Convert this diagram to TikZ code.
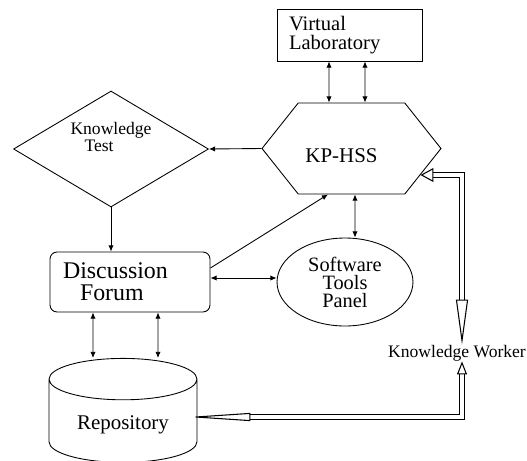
\documentclass[tikz,border=0pt]{standalone}
\usepackage{fontspec}
\setmainfont{Liberation Serif}
\usetikzlibrary{shapes.geometric,shapes.symbols,arrows.meta}

\begin{document}
\begin{tikzpicture}[
        x=0.02cm, y=-0.02cm,
        line width=0.5pt,
        labbox/.style={draw, rectangle, minimum width=2.9cm, minimum height=1.04cm, text width=2.42cm, inner xsep=0.24cm, align=left, font=\fontsize{11.7}{10.8}\selectfont},
        hexa/.style={draw, signal, signal to=west and east, signal pointer angle=103, minimum width=3.58cm, minimum height=1.82cm, inner sep=0pt, text height=15.5pt, text depth=0pt, font=\fontsize{11.9}{13}\selectfont},
        kdiamond/.style={draw, diamond, aspect=1.68, minimum width=3.9cm, minimum height=2.32cm, inner sep=0pt, align=left, font=\fontsize{10}{8}\selectfont},
        forumbox/.style={draw, rectangle, rounded corners=4pt, minimum width=3.2cm, minimum height=1.2cm, text width=2.68cm, inner xsep=0.26cm, align=left, font=\fontsize{13.6}{12.3}\selectfont},
        toolsell/.style={draw, ellipse, minimum width=2.72cm, minimum height=1.76cm, inner sep=0pt, align=center, font=\fontsize{11.6}{10.2}\selectfont},
        repo/.style={draw, cylinder, shape border rotate=90, aspect=0.4, minimum width=2.96cm, minimum height=2.08cm, font=\fontsize{11.9}{13}\selectfont},
        kwtext/.style={inner sep=0pt, font=\fontsize{10}{12}\selectfont},
        arrow/.style={-{Latex[length=3.5pt,width=3pt]}},
        twoway/.style={{Latex[length=3.5pt,width=3pt]}-{Latex[length=3.5pt,width=3pt]}},
        pipe/.style={double, double distance=2pt, line width=0.6pt}
    ]
    \useasboundingbox (0,0) rectangle (527,460);

    \node[labbox] (lab) at (349.5,35) {Virtual\\Laboratory};
    \node[hexa] (hss) at (351.5,148.5) {KP-HSS\kern0.4cm};
    \node[kdiamond] (test) at (111,149) {Knowledge\\\hspace{8pt}Test\\[5.6pt]\mbox{}};
    \node[forumbox] (forum) at (130,282) {Discussion\\\hspace{0.34cm}Forum};
    \node[toolsell] (tools) at (345,282) {Software\\Tools\\Panel};
    \node[repo] (repo) at (123,425) {Repository};
    \node[kwtext] (kw) at (457,353) {Knowledge Worker};
    \coordinate (kwtop) at (462,175);
    \coordinate (kwbot) at (462,417);

    % links to the lab and to the forum
    \draw[twoway] ([xshift=-0.41cm]lab.south) -- ([xshift=-0.45cm]hss.north);
    \draw[twoway] ([xshift=0.31cm]lab.south) -- ([xshift=0.27cm]hss.north);
    \draw[arrow] (hss.west) -- (test.east);
    \draw[arrow] (test.south) -- (test.south |- forum.north);
    \draw[arrow] ([yshift=0.28cm]forum.east) -- ([xshift=-0.47cm]hss.south);
    \draw[twoway] ([yshift=0.08cm]forum.east) -- ([yshift=0.08cm]tools.west);
    \draw[twoway] ([xshift=0.07cm]hss.south) -- ([xshift=0.2cm]tools.north);
    \draw[twoway] ([xshift=-0.74cm]forum.south) -- ([xshift=-0.6cm]repo.north);
    \draw[twoway] ([xshift=0.56cm]forum.south) -- ([xshift=0.7cm]repo.north);

    % knowledge worker
    \draw[pipe, {Triangle[open,length=0.9cm,width=0.24cm]}-{Triangle[open,length=0.26cm,width=0.28cm]}] (kwtop |- kw.north) -- (kwtop) -- (kwtop -| hss.-21);
    \draw[pipe, shorten >=-0.2cm, {Triangle[open,length=0.26cm,width=0.2cm]}-{Triangle[open,length=1.26cm,width=0.16cm]}] (kwbot |- kw.south) -- (kwbot) -- (kwbot -| repo.east);
\end{tikzpicture}
\end{document}
